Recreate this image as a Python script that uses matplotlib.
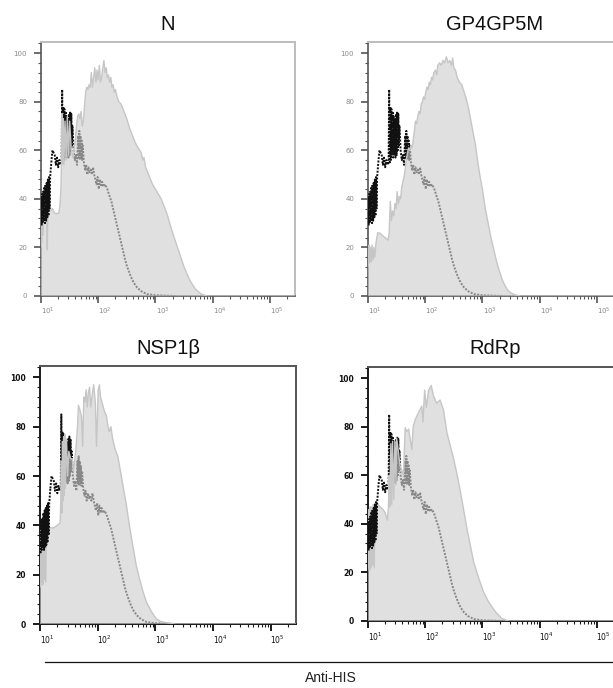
import numpy as np
import matplotlib
matplotlib.use("Agg")
import matplotlib.pyplot as plt
from matplotlib.ticker import FixedLocator, MultipleLocator, NullFormatter
from matplotlib.transforms import ScaledTranslation
from matplotlib.lines import Line2D

# all x values are log10 of the Anti-HIS intensity, y is % of max

# isotype control (dotted), identical in every panel
ctrl = [(1.00, 30), (1.005, 40), (1.01, 29), (1.02, 42), (1.03, 30), (1.04, 43), (1.05, 31),
        (1.06, 45), (1.07, 30), (1.08, 46), (1.09, 31), (1.10, 47), (1.11, 32), (1.12, 48),
        (1.13, 33), (1.14, 49), (1.15, 36), (1.16, 49), (1.18, 55), (1.20, 60), (1.22, 59),
        (1.24, 58), (1.26, 54), (1.28, 57), (1.30, 53), (1.32, 56), (1.34, 54), (1.36, 55),
        (1.37, 85), (1.38, 55), (1.39, 78), (1.40, 56), (1.41, 77), (1.42, 58), (1.43, 76),
        (1.44, 57), (1.45, 74), (1.46, 58), (1.47, 73), (1.48, 57), (1.49, 75), (1.50, 58),
        (1.51, 76), (1.52, 60), (1.53, 75), (1.54, 62), (1.55, 70), (1.57, 60), (1.59, 56),
        (1.61, 58), (1.63, 54), (1.65, 66), (1.66, 57), (1.67, 68), (1.68, 56), (1.69, 66),
        (1.70, 57), (1.71, 64), (1.72, 56), (1.73, 62), (1.75, 55), (1.77, 52), (1.79, 54),
        (1.81, 50), (1.83, 53), (1.85, 51), (1.87, 52), (1.89, 50), (1.91, 53), (1.93, 50),
        (1.95, 48), (1.97, 46), (1.99, 49), (2.01, 44), (2.03, 48), (2.05, 45), (2.07, 47),
        (2.09, 45), (2.12, 46), (2.16, 44), (2.20, 41), (2.23, 39), (2.26, 36), (2.29, 33),
        (2.32, 30), (2.35, 27), (2.38, 24), (2.41, 21), (2.44, 18), (2.47, 15), (2.50, 12.5),
        (2.53, 10.5), (2.57, 8), (2.62, 5.5), (2.68, 3.5), (2.75, 2), (2.85, 0.8), (3.00, 0.3),
        (3.35, 0)]

n_hist = [(1.00, 20), (1.005, 36), (1.01, 22), (1.02, 38), (1.03, 25), (1.04, 39), (1.05, 37),
          (1.08, 38), (1.10, 37), (1.11, 19), (1.12, 37), (1.14, 36), (1.16, 35), (1.20, 36),
          (1.24, 34), (1.28, 34), (1.31, 34), (1.33, 37), (1.35, 45), (1.36, 57), (1.37, 75),
          (1.38, 55), (1.39, 73), (1.40, 54), (1.42, 72), (1.44, 56), (1.46, 74), (1.48, 58),
          (1.50, 72), (1.53, 60), (1.56, 57), (1.58, 62), (1.60, 64), (1.62, 70), (1.64, 74),
          (1.66, 75), (1.68, 73), (1.70, 76), (1.72, 70), (1.74, 72), (1.76, 78), (1.78, 84),
          (1.80, 86), (1.82, 85), (1.84, 87), (1.86, 86), (1.88, 92), (1.90, 86), (1.92, 90),
          (1.94, 94), (1.96, 88), (1.98, 93), (2.00, 89), (2.02, 95), (2.04, 88), (2.06, 90),
          (2.08, 94), (2.10, 97), (2.12, 92), (2.14, 94), (2.16, 90), (2.18, 91), (2.20, 88),
          (2.22, 90), (2.24, 86), (2.26, 87), (2.28, 84), (2.30, 85), (2.33, 82), (2.36, 80),
          (2.40, 79), (2.45, 76), (2.50, 73), (2.55, 69), (2.60, 66), (2.65, 63), (2.70, 61),
          (2.75, 59), (2.78, 56), (2.80, 57), (2.83, 53), (2.88, 50), (2.95, 46), (3.00, 44),
          (3.10, 40), (3.20, 34), (3.30, 26), (3.40, 19), (3.50, 12), (3.60, 6.5), (3.70, 2.8),
          (3.80, 0.8), (3.90, 0), (5.45, 0)]

gp_hist = [(1.00, 12), (1.005, 20), (1.01, 13), (1.02, 21), (1.03, 14), (1.04, 20), (1.06, 14),
           (1.07, 21), (1.09, 15), (1.10, 20), (1.12, 16), (1.14, 22), (1.17, 26), (1.20, 26),
           (1.25, 25), (1.30, 24), (1.35, 23), (1.37, 26), (1.39, 39), (1.41, 31), (1.43, 35),
           (1.45, 33), (1.47, 38), (1.49, 36), (1.51, 43), (1.53, 38), (1.55, 41), (1.57, 40),
           (1.59, 45), (1.61, 47), (1.63, 49), (1.65, 52), (1.67, 56), (1.69, 59), (1.71, 61),
           (1.73, 60), (1.75, 62), (1.77, 61), (1.79, 64), (1.81, 68), (1.83, 72), (1.85, 71),
           (1.87, 74), (1.89, 76), (1.91, 75), (1.93, 79), (1.95, 80), (1.97, 82), (1.99, 81),
           (2.01, 84), (2.03, 86), (2.05, 85), (2.07, 88), (2.09, 87), (2.11, 90), (2.13, 89),
           (2.15, 92), (2.18, 93), (2.20, 91), (2.22, 95), (2.25, 96), (2.28, 95), (2.31, 97),
           (2.34, 96), (2.37, 98.5), (2.40, 96), (2.43, 97), (2.46, 95), (2.48, 98), (2.50, 94),
           (2.53, 93), (2.56, 90), (2.60, 88), (2.64, 87), (2.68, 84), (2.72, 81), (2.76, 77),
           (2.80, 72), (2.84, 67), (2.88, 62), (2.92, 55), (2.96, 49), (3.00, 44), (3.05, 36),
           (3.10, 30), (3.15, 24), (3.20, 19), (3.25, 14), (3.30, 10), (3.35, 6.5), (3.40, 4),
           (3.45, 2.2), (3.50, 1.2), (3.58, 0.4), (3.67, 0), (5.45, 0)]

nsp_hist = [(1.00, 16), (1.005, 38), (1.01, 15), (1.02, 40), (1.03, 17), (1.04, 40), (1.05, 16),
            (1.06, 39), (1.07, 18), (1.08, 40), (1.10, 17), (1.11, 40), (1.14, 40), (1.18, 39),
            (1.24, 39), (1.30, 40), (1.35, 41), (1.36, 50), (1.37, 66), (1.38, 45), (1.39, 74),
            (1.40, 50), (1.41, 76), (1.42, 52), (1.43, 77), (1.44, 55), (1.46, 75), (1.48, 60),
            (1.50, 70), (1.53, 67), (1.56, 67), (1.58, 62), (1.62, 70), (1.65, 80), (1.667, 88.6),
            (1.69, 87), (1.72, 84), (1.74, 72), (1.76, 92), (1.78, 90), (1.80, 95), (1.82, 88),
            (1.84, 94), (1.86, 96), (1.88, 88), (1.90, 92), (1.93, 97), (1.96, 90), (1.98, 72),
            (2.01, 95), (2.03, 97), (2.05, 92), (2.09, 88.6), (2.12, 86), (2.15, 84.6), (2.18, 80),
            (2.20, 78), (2.23, 80), (2.26, 75), (2.30, 71), (2.35, 68), (2.38, 64), (2.44, 56),
            (2.50, 48), (2.55, 40), (2.61, 31.7), (2.67, 23.6), (2.73, 18), (2.79, 12.8),
            (2.85, 8.7), (2.94, 4.7), (3.02, 2), (3.10, 1), (3.20, 0.5), (3.35, 0), (5.45, 0)]

rdrp_hist = [(1.00, 21), (1.005, 45), (1.01, 22), (1.02, 46), (1.03, 21), (1.04, 47), (1.05, 22),
             (1.06, 47), (1.08, 23), (1.09, 48), (1.11, 22), (1.12, 48), (1.15, 48.6), (1.21, 47),
             (1.26, 46), (1.30, 44.6), (1.34, 41.5), (1.357, 47), (1.37, 60), (1.38, 47), (1.40, 73),
             (1.415, 48), (1.43, 74), (1.45, 50), (1.47, 74), (1.49, 56), (1.50, 75.4), (1.53, 70),
             (1.56, 64), (1.62, 60), (1.65, 79.6), (1.68, 78), (1.71, 79), (1.766, 70.6), (1.79, 80),
             (1.825, 83), (1.88, 85.7), (1.94, 88.5), (1.96, 82), (1.99, 95), (2.02, 88), (2.06, 95),
             (2.105, 97), (2.146, 92.6), (2.20, 89.7), (2.26, 91), (2.32, 87), (2.38, 77.5),
             (2.44, 72), (2.50, 66.5), (2.55, 61), (2.61, 54), (2.67, 46), (2.73, 38), (2.79, 31),
             (2.85, 24), (2.94, 17.3), (3.02, 11.9), (3.11, 7.8), (3.23, 3.7), (3.34, 1),
             (3.46, 0), (5.45, 0)]

panel_names = ['N', 'GP4GP5M', 'NSP1\u03b2', 'RdRp']
panel_hists = [n_hist, gp_hist, nsp_hist, rdrp_hist]
decades = [1, 2, 3, 4, 5]
y_ticks = [0, 20, 40, 60, 80, 100]

W, H = 613, 688
fig = plt.figure(figsize=(W / 100, H / 100), dpi=100)

# axes boxes in pixels: left, top, width, height
boxes = [(41, 42, 254, 254), (368, 42, 254, 254),
         (40, 366, 256, 258), (368, 367, 254, 254)]

lab_shift = ScaledTranslation(0.07, 0, fig.dpi_scale_trans)

cx, cy = zip(*ctrl)
cx = 10 ** np.array(cx)
cy = np.array(cy)
# the first jagged band of the control shows black over the fill
split = 19

for i in range(4):
    l, t, w, h = boxes[i]
    ax = fig.add_axes([l / W, (H - t - h) / H, w / W, h / H])
    top_row = i < 2

    hx, hy = zip(*panel_hists[i])
    hx = 10 ** np.array(hx)

    dots = dict(color='#111111', lw=1.4, linestyle=(0, (1, 0.75)), dash_capstyle='butt')
    ax.plot(cx[:split], cy[:split], zorder=5, **dots)
    ax.plot(cx[split - 1:], cy[split - 1:], zorder=2, **dots)
    ax.fill_between(hx, 0, hy, facecolor='#cecece', alpha=0.63, linewidth=0, zorder=3)
    ax.plot(hx, hy, color='#c6c6c6', lw=1.0, zorder=4)

    ax.set_xscale('log')
    ax.set_xlim(10 ** 1, 10 ** 5.44)
    ax.set_ylim(0, 104.6)

    ax.xaxis.set_major_locator(FixedLocator([10 ** d for d in decades]))
    ax.set_xticklabels(['$10^{%d}$' % d for d in decades])
    minor = [m * 10 ** d for d in range(1, 6) for m in range(2, 10)]
    ax.xaxis.set_minor_locator(FixedLocator(minor))
    ax.xaxis.set_minor_formatter(NullFormatter())
    ax.set_yticks(y_ticks)
    ax.yaxis.set_minor_locator(MultipleLocator(4))

    if top_row:
        axis_col = '#555555'
        lab_col = '#8a8a8a'
        frame_col = '#bdbdbd'
        weight = 'normal'
        lw = 1.2
        fsize = 5
    else:
        axis_col = '#1a1a1a'
        lab_col = '#111111'
        frame_col = '#555555'
        weight = 'bold'
        lw = 1.4
        fsize = 5.5

    for side in ['left', 'bottom']:
        ax.spines[side].set_color(axis_col)
        ax.spines[side].set_linewidth(lw)
    for side in ['top', 'right']:
        ax.spines[side].set_color(frame_col)
        ax.spines[side].set_linewidth(1.4)

    ax.tick_params(which='major', direction='out', length=5, width=lw, color=axis_col,
                   labelsize=fsize, labelcolor=lab_col, pad=2)
    ax.tick_params(which='minor', direction='out', length=2.5, width=0.8, color=axis_col)
    ax.tick_params(axis='y', pad=5)
    for lab in ax.get_yticklabels():
        lab.set_fontweight(weight)
    for tick in ax.xaxis.get_major_ticks():
        tick.label1.set_transform(tick.label1.get_transform() + lab_shift)
        tick.label1.set_fontweight(weight)

    ax.set_title(panel_names[i], fontsize=14.5, pad=9, family='Liberation Sans', color='#111111')

fig.add_artist(Line2D([45 / W, 1.0], [(H - 662) / H] * 2, transform=fig.transFigure,
                      color='#111111', lw=0.9))
fig.text(331 / W, (H - 678) / H, 'Anti-HIS', ha='center', va='center', fontsize=10,
         family='Liberation Sans', color='#222222')

fig.savefig('out.png', dpi=100)
